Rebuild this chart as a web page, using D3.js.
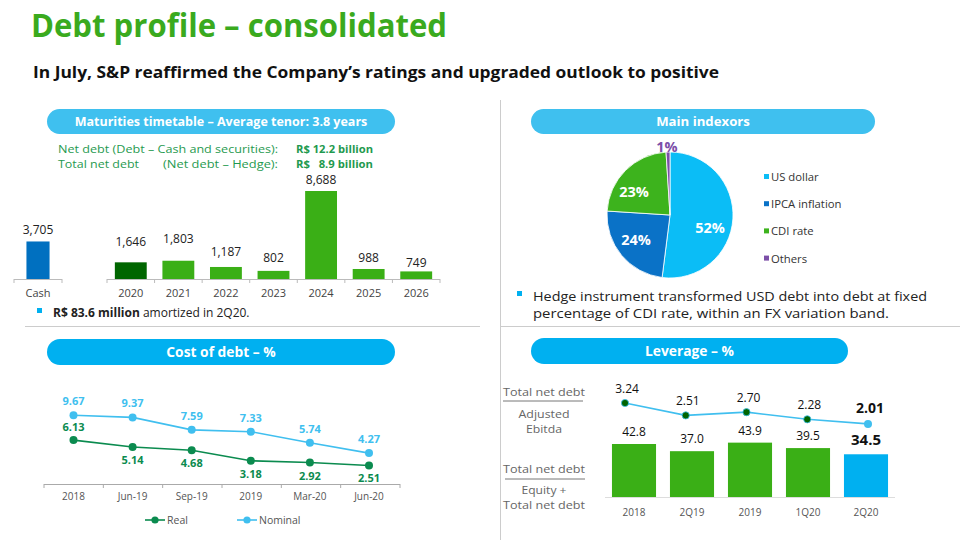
<!DOCTYPE html>
<html><head><meta charset="utf-8">
<script src="https://cdn.jsdelivr.net/npm/d3@7"></script>
<style>body{margin:0;background:#fff}svg{display:block}text{font-family:"Open Sans",sans-serif}</style>
</head><body><svg id="c" width="960" height="540"></svg>
<script>
// ---- data ----
const maturityCats = ["2020","2021","2022","2023","2024","2025","2026"];
const maturityVals = [1646,1803,1187,802,8688,988,749];
const cashLabel = ["Cash"];
const cashVals = [3705];
const indexorLabels = ["US dollar","IPCA inflation","CDI rate","Others"];
const indexorVals = [52,24,23,1];
const costCats = ["2018","Jun-19","Sep-19","2019","Mar-20","Jun-20"];
const costReal = [6.13,5.14,4.68,3.18,2.92,2.51];
const costNominal = [9.67,9.37,7.59,7.33,5.74,4.27];
const levCats = ["2018","2Q19","2019","1Q20","2Q20"];
const levEquity = [42.8,37.0,43.9,39.5,34.5];
const levEbitda = [3.24,2.51,2.70,2.28,2.01];

const svg = d3.select("#c");
const fmt = d3.format(",");

// title
svg.append("text").attr("x",31).attr("y",37).attr("font-size",33).attr("font-weight",700)
  .attr("textLength",416).attr("lengthAdjust","spacingAndGlyphs")
  .attr("fill","#3aaa1e").text("Debt profile – consolidated");
svg.append("text").attr("x",33).attr("y",78).attr("font-size",16.5).attr("font-weight",700)
  .attr("textLength",686).attr("lengthAdjust","spacingAndGlyphs")
  .attr("fill","#111").text("In July, S&P reaffirmed the Company’s ratings and upgraded outlook to positive");

// separators
svg.append("line").attr("x1",500.5).attr("x2",500.5).attr("y1",100).attr("y2",540).attr("stroke","#ccc");
svg.append("line").attr("x1",25).attr("x2",480).attr("y1",326.5).attr("y2",326.5).attr("stroke","#ccc");
svg.append("line").attr("x1",500).attr("x2",960).attr("y1",326.5).attr("y2",326.5).attr("stroke","#ccc");

function pill(x,y,w,h,fill,label,fs){
  svg.append("rect").attr("x",x).attr("y",y).attr("width",w).attr("height",h).attr("rx",h/2).attr("fill",fill);
  svg.append("text").attr("x",x+w/2).attr("y",y+h/2+4.5).attr("text-anchor","middle")
    .attr("font-size",fs).attr("font-weight",700).attr("fill","#fff").text(label);
}
pill(47,109,348,25,"#3fc0ef","Maturities timetable – Average tenor: 3.8 years",12.5);
pill(531,109,344,25,"#3fc0ef","Main indexors",13.2);
pill(47,339,348,26,"#00b0f0","Cost of debt – %",13.8);
pill(531,338,317,26,"#00b0f0","Leverage – %",13.8);

// fitted text helper
function ft(x,y,w,t,fs,fill,opts){
  opts = opts||{};
  return svg.append("text").attr("x",x).attr("y",y).attr("font-size",fs).attr("font-weight",opts.bold?700:400)
    .attr("text-anchor",opts.anchor||"start")
    .attr("textLength",w).attr("lengthAdjust","spacingAndGlyphs").attr("fill",fill).attr("xml:space","preserve").text(t);
}

// ---- maturities ----
const tg = "#1f9a4f";
ft(58,153,220,"Net debt (Debt – Cash and securities):",10.5,tg);
ft(58,167.5,81,"Total net debt",10.5,tg);
ft(163,167.5,115,"(Net debt – Hedge):",10.5,tg);
ft(296,153,77,"R$ 12.2 billion",10.5,tg,{bold:true});
ft(296,167.5,77,"R$   8.9 billion",10.5,tg,{bold:true});

const mBase = 279;
const my = d3.scaleLinear().domain([0,8688]).range([mBase,191]);
const mx = d3.scaleBand().domain(maturityCats).range([107,440]).paddingInner(0.33).paddingOuter(0.165);
const cx = d3.scaleBand().domain(cashLabel).range([14,62]).padding(0.35);

function axisLine(x1,x2,ticks){
  svg.append("line").attr("x1",x1).attr("x2",x2).attr("y1",mBase+0.5).attr("y2",mBase+0.5).attr("stroke","#bbb");
  ticks.forEach(t=>svg.append("line").attr("x1",t).attr("x2",t).attr("y1",mBase).attr("y2",mBase+4).attr("stroke","#bbb"));
}
axisLine(14,62,[14,62]);
const bnds = maturityCats.map((c,i)=>107+i*(333/7)).concat([440]);
axisLine(107,440,bnds);

svg.selectAll(".cb").data(cashVals).join("rect").attr("x",cx("Cash")).attr("width",cx.bandwidth())
  .attr("y",d=>my(d)).attr("height",d=>mBase-my(d)).attr("fill","#0070c0");
svg.selectAll(".cbl").data(cashVals).join("text").attr("x",cx("Cash")+cx.bandwidth()/2).attr("y",d=>my(d)-7)
  .attr("text-anchor","middle").attr("font-size",12).attr("fill","#222").text(d=>fmt(d));
svg.append("text").attr("x",38).attr("y",297).attr("text-anchor","middle").attr("font-size",11).attr("fill","#444").text("Cash");

svg.selectAll(".mb").data(maturityVals).join("rect").attr("x",(d,i)=>mx(maturityCats[i])).attr("width",mx.bandwidth())
  .attr("y",d=>my(d)).attr("height",d=>mBase-my(d)).attr("fill",(d,i)=>i===0?"#006600":"#3aaf16");
const mLblY = [246,243,256,262,184,262,267];
svg.selectAll(".ml").data(maturityVals).join("text").attr("x",(d,i)=>mx(maturityCats[i])+mx.bandwidth()/2)
  .attr("y",(d,i)=>mLblY[i]).attr("text-anchor","middle").attr("font-size",12).attr("fill","#222").text(d=>fmt(d));
svg.selectAll(".mc").data(maturityCats).join("text").attr("x",d=>mx(d)+mx.bandwidth()/2).attr("y",297)
  .attr("text-anchor","middle").attr("font-size",11).attr("fill","#444").text(d=>d);

svg.append("rect").attr("x",37).attr("y",308).attr("width",5).attr("height",5).attr("fill","#00b0f0");
const bt = svg.append("text").attr("x",53).attr("y",317).attr("font-size",12).attr("fill","#222");
bt.append("tspan").attr("font-weight",700).text("R$ 83.6 million");
bt.append("tspan").text(" amortized in 2Q20.");

// ---- pie ----
const pieColors = ["#0bbdf6","#0a72c7","#3db31d","#7c4fa8"];
const pie = d3.pie().sort(null).value(d=>d)(indexorVals);
const arc = d3.arc().innerRadius(0).outerRadius(63);
const pg = svg.append("g").attr("transform","translate(670,215)");
pg.selectAll("path").data(pie).join("path").attr("d",arc).attr("fill",(d,i)=>pieColors[i]).attr("stroke","#fff").attr("stroke-width",0.8);
const pieLblPos = [[40,18],[-34,30],[-36,-18],[-3,-63]];
pg.selectAll(".pl").data(pie).join("text").attr("x",(d,i)=>pieLblPos[i][0]).attr("y",(d,i)=>pieLblPos[i][1])
  .attr("text-anchor","middle").attr("font-size",14.5).attr("font-weight",700)
  .attr("fill",(d,i)=>i===3?"#7c4fa8":"#fff").text(d=>d.data+"%");
indexorLabels.forEach((l,i)=>{
  const y = 177+i*27.2;
  svg.append("rect").attr("x",764).attr("y",y-3).attr("width",5).attr("height",5).attr("fill",pieColors[i]);
  svg.append("text").attr("x",771).attr("y",y+4).attr("font-size",11.3).attr("fill","#333").text(l);
});
svg.append("rect").attr("x",517).attr("y",291).attr("width",5).attr("height",5).attr("fill","#00b0f0");
ft(533,301,394,"Hedge instrument transformed USD debt into debt at fixed",12.3,"#222");
ft(533,318,356,"percentage of CDI rate, within an FX variation band.",12.3,"#222");

// ---- cost of debt ----
const realC = "#0b8b4f", nomC = "#40bfef";
const lx = d3.scalePoint().domain(costCats).range([73.5,369]);
const ly = d3.scaleLinear().domain([0,10]).range([483,413]);
svg.append("line").attr("x1",44).attr("x2",400).attr("y1",484.5).attr("y2",484.5).attr("stroke","#aaa");
d3.range(7).forEach(i=>{const t=44+i*(356/6);
  svg.append("line").attr("x1",t).attr("x2",t).attr("y1",484).attr("y2",488).attr("stroke","#aaa");});
svg.selectAll(".cc").data(costCats).join("text").attr("x",d=>lx(d)).attr("y",500).attr("text-anchor","middle")
  .attr("font-size",10).attr("fill","#555").text(d=>d);
const line = d3.line().x((d,i)=>lx(costCats[i])).y(d=>ly(d));
[[costNominal,nomC],[costReal,realC]].forEach(([arr,col])=>{
  svg.append("path").attr("d",line(arr)).attr("fill","none").attr("stroke",col).attr("stroke-width",1.6);
  svg.selectAll(null).data(arr).join("circle").attr("cx",(d,i)=>lx(costCats[i])).attr("cy",d=>ly(d)).attr("r",4).attr("fill",col);
});
svg.selectAll(".nl").data(costNominal).join("text").attr("x",(d,i)=>lx(costCats[i])).attr("y",d=>ly(d)-10)
  .attr("text-anchor","middle").attr("font-size",11).attr("font-weight",700).attr("fill",nomC).text(d=>d.toFixed(2));
svg.selectAll(".rl").data(costReal).join("text").attr("x",(d,i)=>lx(costCats[i])).attr("y",(d,i)=>i===0?ly(d)-9:ly(d)+17)
  .attr("text-anchor","middle").attr("font-size",11).attr("font-weight",700).attr("fill",realC).text(d=>d.toFixed(2));
[["Real",realC,145],["Nominal",nomC,237]].forEach(([t,c,x])=>{
  svg.append("line").attr("x1",x).attr("x2",x+20).attr("y1",520).attr("y2",520).attr("stroke",c).attr("stroke-width",1.6);
  svg.append("circle").attr("cx",x+10).attr("cy",520).attr("r",3.6).attr("fill",c);
  svg.append("text").attr("x",x+22).attr("y",524).attr("font-size",10.5).attr("fill","#555").text(t);
});

// ---- leverage ----
const gx = d3.scaleBand().domain(levCats).range([605,895]).paddingInner(0.24).paddingOuter(0.12);
const gy = d3.scaleLinear().domain([0,42.8]).range([497,444]);
const px = d3.scalePoint().domain(levCats).range([625,868]);
const ey = d3.scaleLinear().domain([0,3.24]).range([458,403]);
svg.append("line").attr("x1",605).attr("x2",895).attr("y1",497.5).attr("y2",497.5).attr("stroke","#ddd");
svg.selectAll(".lb").data(levEquity).join("rect").attr("x",(d,i)=>gx(levCats[i])).attr("width",gx.bandwidth())
  .attr("y",d=>gy(d)).attr("height",d=>497-gy(d)).attr("fill",(d,i)=>i===4?"#00b0f0":"#3aaf16");
svg.selectAll(".lbl").data(levEquity).join("text").attr("x",(d,i)=>gx(levCats[i])+gx.bandwidth()/2)
  .attr("y",(d,i)=>gy(d)-(i===4?9:8)).attr("text-anchor","middle")
  .attr("font-size",(d,i)=>i===4?15:12).attr("font-weight",(d,i)=>i===4?700:400).attr("fill","#111").text(d=>d.toFixed(1));
svg.selectAll(".lc").data(levCats).join("text").attr("x",d=>gx(d)+gx.bandwidth()/2).attr("y",516)
  .attr("text-anchor","middle").attr("font-size",10).attr("fill","#555").text(d=>d);
const eline = d3.line().x((d,i)=>px(levCats[i])).y(d=>ey(d));
svg.append("path").attr("d",eline(levEbitda)).attr("fill","none").attr("stroke","#40bfef").attr("stroke-width",1.6);
svg.selectAll(".ed").data(levEbitda).join("circle").attr("cx",(d,i)=>px(levCats[i])).attr("cy",d=>ey(d)).attr("r",(d,i)=>i===4?4:3.6)
  .attr("fill",(d,i)=>i===4?"#40bfef":"#006400").attr("stroke",(d,i)=>i===4?"none":"#3fbfef").attr("stroke-width",0.8);
svg.selectAll(".el").data(levEbitda).join("text").attr("x",(d,i)=>px(levCats[i])+2)
  .attr("y",(d,i)=>ey(d)-(i===4?11:10)).attr("text-anchor","middle")
  .attr("font-size",(d,i)=>i===4?14:12).attr("font-weight",(d,i)=>i===4?700:400).attr("fill","#111").text(d=>d.toFixed(2));

const gl = "#666";
[["Total net debt",396,82],["Adjusted",418,51],["Ebitda",433,36],["Total net debt",473,82],["Equity +",494,45],["Total net debt",509,82]].forEach(([t,y,w])=>{
  ft(544,y,w,t,10.8,gl,{anchor:"middle"});
});
svg.append("line").attr("x1",503).attr("x2",583).attr("y1",401).attr("y2",401).attr("stroke","#777");
svg.append("line").attr("x1",505).attr("x2",585).attr("y1",479).attr("y2",479).attr("stroke","#777");
</script></body></html>
